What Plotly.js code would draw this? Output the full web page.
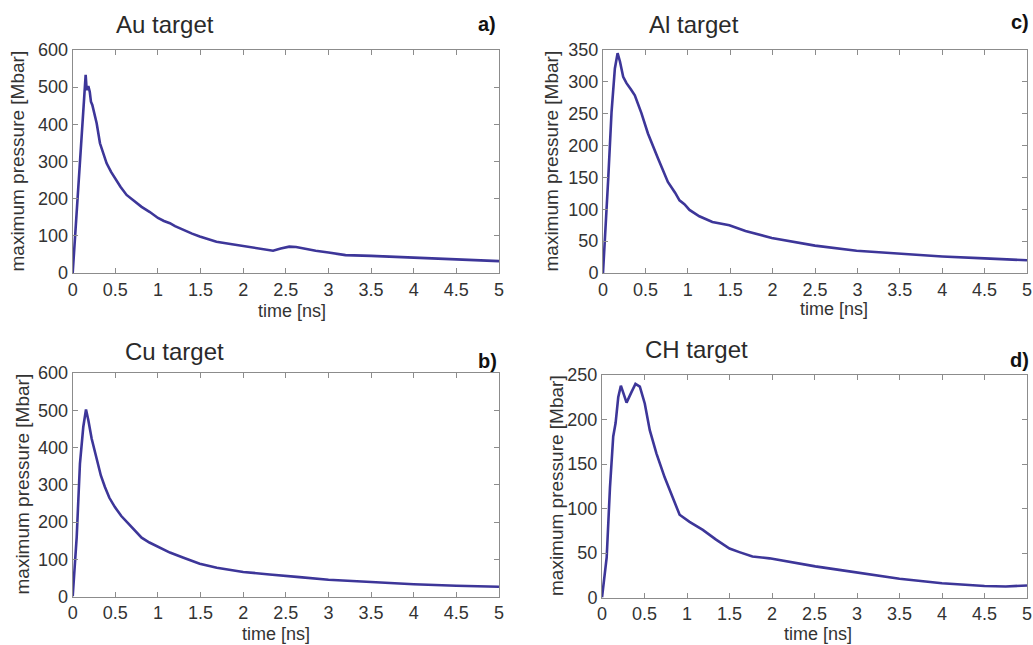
<!DOCTYPE html>
<html>
<head>
<meta charset="utf-8">
<script src="https://cdn.plot.ly/plotly-3.0.1.min.js"></script>
<style>html,body{margin:0;padding:0;background:#fff;}#chart{width:1033px;height:645px;}</style>
</head>
<body>
<div id="chart"></div>
<script>
// ---- data ----
const timeAu = [0, 0.02, 0.05, 0.08, 0.095, 0.12, 0.14, 0.152, 0.164, 0.183, 0.2, 0.214, 0.23, 0.25, 0.281, 0.32, 0.36, 0.398, 0.45, 0.495, 0.56, 0.632, 0.72, 0.808, 0.905, 1.0, 1.07, 1.14, 1.2, 1.295, 1.4, 1.49, 1.6, 1.686, 1.85, 2.0, 2.19, 2.35, 2.44, 2.54, 2.62, 2.7, 2.85, 3.0, 3.2, 3.5, 3.75, 4.0, 4.25, 4.5, 4.75, 5.0];
const pressureAu = [0, 70, 190, 300, 358, 430, 500, 533, 492, 503, 488, 461, 452, 430, 403, 349, 320, 295, 272, 255, 232, 210, 193, 178, 164, 148, 140, 134, 126, 116, 106, 98, 90, 84, 78, 73, 65, 60, 66, 71, 70, 66, 60, 55, 48, 46, 44, 42, 40, 37, 35, 32];

const timeCu = [0, 0.047, 0.085, 0.124, 0.156, 0.183, 0.222, 0.281, 0.33, 0.378, 0.43, 0.495, 0.57, 0.651, 0.73, 0.808, 0.9, 1.0, 1.14, 1.3, 1.49, 1.69, 2.0, 2.31, 2.5, 2.66, 3.0, 3.5, 4.0, 4.5, 5.0];
const pressureCu = [0, 160, 357, 455, 502, 474, 424, 366, 325, 294, 265, 240, 216, 196, 177, 158, 145, 134, 118, 104, 88, 77, 66, 59, 56, 52, 45, 38, 33, 29, 26];

const timeAl = [0, 0.023, 0.062, 0.101, 0.14, 0.172, 0.2, 0.238, 0.277, 0.33, 0.375, 0.453, 0.53, 0.648, 0.765, 0.85, 0.902, 0.96, 1.02, 1.136, 1.29, 1.49, 1.68, 1.99, 2.3, 2.5, 2.99, 3.5, 4.0, 4.5, 5.0];
const pressureAl = [0, 49, 149, 253, 321, 345, 332, 308, 298, 288, 279, 251, 219, 180, 143, 126, 114, 108, 99, 89, 80, 75, 66, 55, 47, 43, 35, 30, 26, 23, 20];

const timeCH = [0, 0.055, 0.094, 0.132, 0.16, 0.191, 0.222, 0.25, 0.289, 0.348, 0.394, 0.445, 0.503, 0.562, 0.64, 0.737, 0.913, 1.03, 1.186, 1.342, 1.5, 1.616, 1.77, 1.97, 2.2, 2.51, 2.79, 3.0, 3.5, 4.0, 4.5, 4.75, 5.0];
const pressureCH = [0, 45, 124, 181, 196, 225, 238, 231, 219, 231, 240, 237, 218, 188, 162, 135, 93, 85, 76, 65, 55, 51, 46, 44, 40, 35, 31, 28, 21, 16, 13, 12.4, 13.5];

const xTicks = [0, 0.5, 1, 1.5, 2, 2.5, 3, 3.5, 4, 4.5, 5];
const yTicksAuCu = [0, 100, 200, 300, 400, 500, 600];
const yTicksAl = [0, 50, 100, 150, 200, 250, 300, 350];
const yTicksCH = [0, 50, 100, 150, 200, 250];

const panelTitles = ["Au target", "Al target", "Cu target", "CH target"];
const panelLetters = ["a)", "c)", "b)", "d)"];
const xLabel = "time [ns]";
const yLabel = "maximum pressure [Mbar]";

// ---- layout ----
const W = 1033, H = 645;
const FONT = "Liberation Sans, Arial, Helvetica, sans-serif";
const lineColor = "#3d3699";
const axisGray = "#8c8c8c";
const textGray = "#333333";

function px(x){ return x / W; }
function py(y){ return 1 - y / H; }

// plot boxes in pixels [left, right, top, bottom]
const boxes = [
  [72.7, 499, 50, 273],   // a
  [603, 1027, 50, 273],   // c
  [72.7, 499, 373, 596.5],// b
  [602, 1027, 375, 597.5] // d
];

function xax(i){
  const b = boxes[i];
  return {
    domain: [px(b[0]), px(b[1])],
    anchor: i === 0 ? 'y' : 'y' + (i + 1),
    range: [0, 5], tickvals: xTicks, ticktext: xTicks.map(String),
    showline: true, linecolor: axisGray, linewidth: 1, mirror: 'allticks',
    ticks: 'inside', ticklen: 5, tickcolor: axisGray, tickwidth: 1,
    showgrid: false, zeroline: false, ticklabeloverflow: 'allow',
    tickfont: {family: FONT, size: 18, color: textGray},
    fixedrange: true
  };
}
function yax(i, ticks, maxv){
  const b = boxes[i];
  return {
    domain: [py(b[3]), py(b[2])],
    anchor: i === 0 ? 'x' : 'x' + (i + 1),
    range: [0, maxv], tickvals: ticks, ticktext: ticks.map(String),
    showline: true, linecolor: axisGray, linewidth: 1, mirror: 'allticks',
    ticks: 'inside', ticklen: 5, tickcolor: axisGray, tickwidth: 1,
    showgrid: false, zeroline: false, ticklabeloverflow: 'allow',
    tickfont: {family: FONT, size: 18, color: textGray},
    fixedrange: true
  };
}

const series = [
  [timeAu, pressureAu, 'x', 'y'],
  [timeAl, pressureAl, 'x2', 'y2'],
  [timeCu, pressureCu, 'x3', 'y3'],
  [timeCH, pressureCH, 'x4', 'y4']
];
const traces = series.map((s, k) => ({
  x: s[0], y: s[1], xaxis: s[2], yaxis: s[3],
  type: 'scatter', mode: 'lines', name: panelTitles[k],
  line: {color: lineColor, width: 2.6, shape: 'linear'},
  showlegend: false, hoverinfo: 'skip', cliponaxis: true
}));

// annotation positions (pixels)
const titlePos = [[114, 24], [647, 24], [123, 351], [643, 349]];
const letterPos = [[498, 24], [1031, 22], [499, 361], [1031, 360]];
const xLabelPos = [[292, 311], [834, 309], [276, 634], [818, 634]];
const yLabelPos = [[17, 161.5], [551, 161.5], [22, 484.5], [556, 486]];

const annotations = [];
for (let i = 0; i < 4; i++){
  annotations.push({xref:'paper', yref:'paper', x:px(titlePos[i][0]), y:py(titlePos[i][1]),
    xanchor:'left', yanchor:'middle', text: panelTitles[i], showarrow:false,
    font:{family:FONT, size:24, color:'#2a2a2a'}});
  annotations.push({xref:'paper', yref:'paper', x:px(letterPos[i][0]), y:py(letterPos[i][1]),
    xanchor:'right', yanchor:'middle', text: '<b>' + panelLetters[i] + '</b>', showarrow:false,
    font:{family:FONT, size:20, color:'#111111'}});
  annotations.push({xref:'paper', yref:'paper', x:px(xLabelPos[i][0]), y:py(xLabelPos[i][1]),
    xanchor:'center', yanchor:'middle', text: xLabel, showarrow:false,
    font:{family:FONT, size:18, color:textGray}});
  annotations.push({xref:'paper', yref:'paper', x:px(yLabelPos[i][0]), y:py(yLabelPos[i][1]),
    xanchor:'center', yanchor:'middle', text: yLabel, showarrow:false, textangle:-90,
    font:{family:FONT, size:19, color:textGray}});
}

const layout = {
  width: W, height: H,
  margin: {l:0, r:0, t:0, b:0},
  paper_bgcolor: '#ffffff', plot_bgcolor: '#ffffff',
  showlegend: false,
  xaxis: xax(0), xaxis2: xax(1), xaxis3: xax(2), xaxis4: xax(3),
  yaxis: yax(0, yTicksAuCu, 600), yaxis2: yax(1, yTicksAl, 350),
  yaxis3: yax(2, yTicksAuCu, 600), yaxis4: yax(3, yTicksCH, 250),
  annotations: annotations
};

Plotly.newPlot('chart', traces, layout, {displayModeBar:false, staticPlot:true});
</script>
</body>
</html>
